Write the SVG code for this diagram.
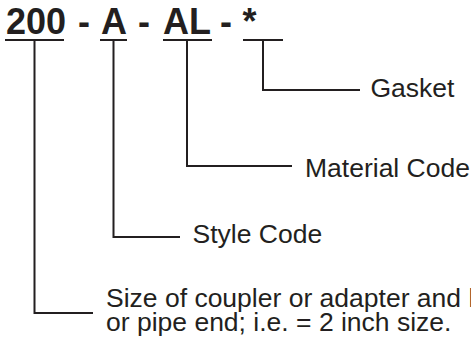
<svg xmlns="http://www.w3.org/2000/svg" width="471" height="347" viewBox="0 0 471 347">
<style>
.code{font-family:"Liberation Sans",Arial,sans-serif;font-weight:bold;font-size:36px;fill:#231f20}
.lbl{font-family:"Liberation Sans",Arial,sans-serif;font-size:26.5px;fill:#231f20}
.ln{fill:none;stroke:#231f20;stroke-width:2;stroke-linecap:butt}
</style>
<rect width="471" height="347" fill="#ffffff"/>
<g id="code">
<text class="code" x="6" y="34">200</text>
<text class="code" x="84" y="34" text-anchor="middle">-</text>
<text class="code" x="101" y="34">A</text>
<text class="code" x="144" y="34" text-anchor="middle">-</text>
<text class="code" x="163" y="34">AL</text>
<text class="code" x="226" y="34" text-anchor="middle">-</text>
<text class="code" x="249.5" y="34" text-anchor="middle">*</text>
</g>
<g id="connectors">
<path class="ln" d="M5 40H64M34.5 40V313H93"/>
<path class="ln" d="M100 40H127M113.5 40V237H180"/>
<path class="ln" d="M163 40H212M187 40V166H292"/>
<path class="ln" d="M243 40H283M263 40V90H360"/>
</g>
<g id="gasket"><text class="lbl" x="370.5" y="97">Gasket</text></g>
<g id="material"><text class="lbl" x="305" y="177">Material Code</text></g>
<g id="style"><text class="lbl" x="192.5" y="243">Style Code</text></g>
<g id="size"><text class="lbl" x="106" y="306.5">Size of coupler or adapter and hose</text>
<text class="lbl" x="106" y="331">or pipe end; i.e. = 2 inch size.</text></g>
</svg>
